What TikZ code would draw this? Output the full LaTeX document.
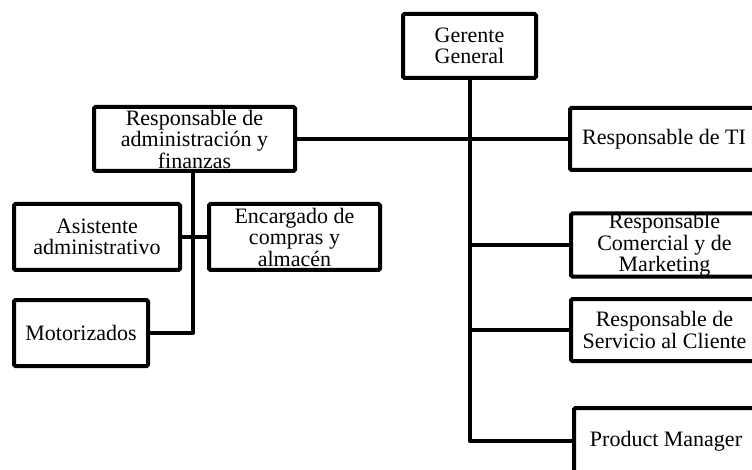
\documentclass[tikz,border=0pt]{standalone}
\usepackage{fontspec}
\setmainfont{Liberation Serif}
\begin{document}
\begin{tikzpicture}[x=1pt,y=-1pt,
  box/.style={draw=black, line width=4pt, rounded corners=1.5pt, inner sep=0pt, align=center,
    font=\fontsize{22}{21.5}\selectfont},
  link/.style={draw=black, line width=4pt, line join=round}]
\useasboundingbox (0,0) rectangle (752,470);
\clip (0,0) rectangle (752,470);
\node[box, minimum width=133pt, minimum height=64pt] (gg) at (469.5,46) {Gerente\\General};
\node[box, minimum width=201pt, minimum height=64pt] (adm) at (194.5,139) {Responsable de\\administración y\\finanzas};
\node[box, minimum width=188pt, minimum height=62pt] (ti) at (664,139) {Responsable de TI};
\node[box, minimum width=166pt, minimum height=66pt] (asis) at (97,237) {Asistente\\administrativo};
\node[box, minimum width=171pt, minimum height=66pt] (enc) at (294.5,237) {Encargado de\\compras y\\almacén};
\node[box, minimum width=134pt, minimum height=66pt] (moto) at (81,333) {Motorizados};
\node[box, minimum width=187pt, minimum height=62pt] (com) at (664.5,245) {Responsable\\Comercial y de\\Marketing};
\node[box, minimum width=187pt, minimum height=62pt] (serv) at (664.5,330) {Responsable de\\Servicio al Cliente};
\node[box, minimum width=184pt, minimum height=66pt] (pm) at (666,441) {Product Manager};
\draw[link] (gg.south) |- (pm.west);
\draw[link] (adm.east) -- (ti.west);
\draw[link] (gg.south |- com.west) -- (com.west);
\draw[link] (gg.south |- serv.west) -- (serv.west);
\draw[link] ([xshift=-1.5pt]adm.south) |- (moto.east);
\draw[link] (asis.east) -- (enc.west);
\end{tikzpicture}
\end{document}
